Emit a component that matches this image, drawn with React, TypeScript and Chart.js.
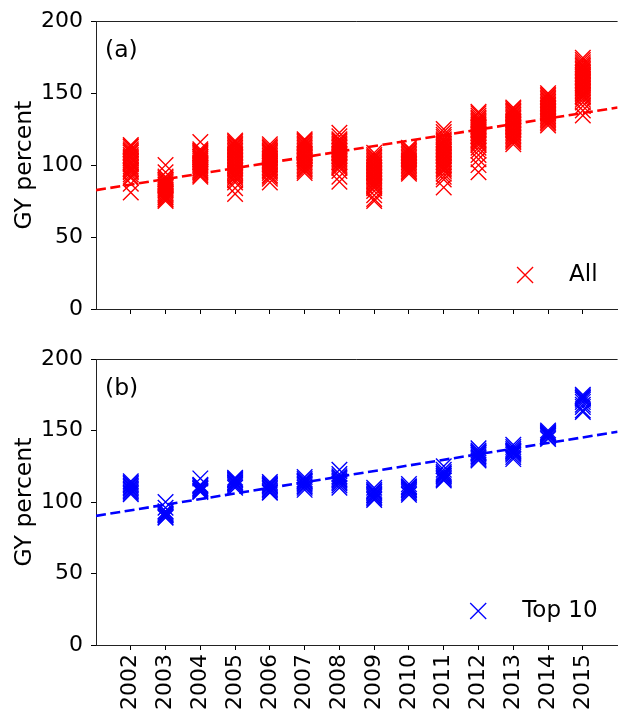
import React, { useEffect, useRef } from 'react';
import { Chart, registerables } from 'chart.js';

Chart.register(...registerables);

const FONT = 'DejaVu Sans';
const TICK_SIZE = 22;
const TEXT_SIZE = 23.5;
const LEGEND_SIZE = 23;

const years = [2002, 2003, 2004, 2005, 2006, 2007, 2008, 2009, 2010, 2011, 2012, 2013, 2014, 2015];
const xMin = 2001;
const xMax = 2016;
const yTickValues = [0, 50, 100, 150, 200];

// GY percent, all funds, per year (index follows `years`)
const allValues: number[][] = [
  [114, 113, 112.5, 111, 110, 109, 108.5, 107, 106, 105, 104.5, 103, 102, 101, 100.5, 99, 98, 97, 96, 95, 93.5, 92, 91, 87, 81],
  [100, 95, 92, 91, 90, 89, 88.5, 87.5, 86.5, 86, 85, 84, 83, 82.5, 81.5, 80.5, 80, 79, 78, 77.5, 76.5, 76, 75],
  [116, 111, 110, 109.5, 108.5, 108, 107, 106, 105.5, 104.5, 104, 103, 102, 101.5, 100.5, 100, 99, 98, 97.5, 96.5, 95.5, 95, 94, 93, 92],
  [117, 116, 115, 114, 113, 112, 111, 110, 109, 108, 107, 106, 105, 104, 103, 102, 101, 100, 99, 98, 97, 96, 95, 94, 93, 92, 91, 89.5, 88, 84, 80],
  [114.5, 113, 112, 111, 110, 109.5, 108.5, 107.5, 106.5, 105.5, 104.5, 103.5, 102.5, 101.5, 100.5, 99.5, 98.5, 97.5, 96.5, 95.5, 94.5, 93, 92, 90.5, 88],
  [118, 117, 116, 115, 114, 113, 112, 111, 110, 109, 108, 107, 106, 105, 104, 103, 102, 101, 100, 99, 98, 97, 96, 94.5],
  [122.5, 120, 118, 117, 116, 115, 114, 113, 112, 111, 110, 109, 108, 107, 106, 105, 104, 103, 102, 101, 100, 99, 98, 96, 92, 88.5],
  [108.5, 107, 106, 105, 104, 103, 102, 101, 100, 99, 98, 97, 96, 95, 94, 93, 92, 91, 90, 89, 88, 87, 86, 85, 84, 82, 79, 76.5, 75],
  [112, 111, 110, 109, 108, 107, 106, 105, 104, 103, 102, 101, 100, 99, 98, 97, 96, 95, 94],
  [125, 123, 121, 119.5, 118, 117, 116, 115, 114, 113, 112, 111, 110, 109, 108, 107, 106, 105, 104, 103, 102, 101, 100, 99, 98, 97, 96, 94, 92, 90, 84.5],
  [137, 136, 134.5, 133, 132, 131, 130, 129, 128, 127, 126, 125, 124, 123, 122, 121, 120, 119, 118, 117, 116, 115, 114, 112, 110, 107, 104, 100, 95],
  [140, 139, 138, 137, 136, 135, 134, 133, 132, 131, 130, 129, 128, 127, 126, 125, 124, 123, 122, 121, 120, 119, 118, 117, 116, 114.5],
  [150, 149, 148, 147, 146, 145, 144, 143, 142, 141, 140, 139, 138, 137, 136, 135, 134, 133, 132, 131, 130, 129, 127.5],
  [174.5, 173, 171.5, 170, 169, 168, 167, 166, 165, 164, 163, 162, 161, 160, 159, 158, 157, 156, 155, 154, 153, 152, 151, 150, 149, 148, 147, 145.5, 143.5, 141, 138, 134.5],
];

// GY percent, top 10 funds, per year
const top10Values: number[][] = [
  [114.5, 113.5, 112.5, 111.5, 110.5, 109.5, 108.5, 107.5, 106.5, 105.5],
  [100, 96, 93.5, 93, 92, 91.5, 91, 90.5, 89.5, 89],
  [116.5, 112, 111.5, 111, 110, 109.5, 109, 108, 107.5, 107],
  [117, 116, 115.5, 115, 114, 113.5, 113, 112, 111, 110],
  [114, 113, 112, 111.5, 111, 110, 109, 108, 107, 106.5],
  [117.5, 116, 115, 114.5, 114, 113, 112, 111, 110, 108.5],
  [122.5, 119.5, 118, 117, 116, 115, 114, 113, 111.5, 110],
  [110, 108.5, 107.5, 107, 106, 105, 104.5, 103.5, 102.5, 101.5],
  [112.5, 111, 110.5, 110, 109, 108.5, 108, 107, 106, 105],
  [125, 122.5, 121, 120, 119.5, 118.5, 118, 117, 116, 115],
  [137.5, 136, 135, 134.5, 134, 133, 132, 131, 130, 129],
  [140, 138.5, 137, 136, 135.5, 135, 134, 133, 131.5, 130],
  [150, 149, 148.5, 148, 147.5, 147, 146.5, 146, 145, 144],
  [175, 174, 173, 172.5, 171.5, 170, 168, 166.5, 164, 163],
];

// Linear trend lines (values at the ends of the x range)
const trendYears = [2001, 2016];
const trendAll = [82.6, 140.0];
const trendTop10 = [90.3, 149.1];

const seriesLabels = ['All', 'Top 10'];
const panelLabels = ['(a)', '(b)'];
const yTitle = 'GY percent';

const decorPlugin = {
  id: 'panelDecor',
  afterDraw(chart: any, _args: any, opts: any) {
    const { ctx, chartArea } = chart;
    const { left, right, top, bottom } = chartArea;
    ctx.save();
    // top spine
    ctx.strokeStyle = '#222';
    ctx.lineWidth = 1;
    const ty = Math.floor(top) + 0.5;
    ctx.beginPath();
    ctx.moveTo(left, ty);
    ctx.lineTo(right, ty);
    ctx.stroke();
    // panel label
    ctx.fillStyle = '#000';
    ctx.font = `${TEXT_SIZE}px "${FONT}"`;
    ctx.textBaseline = 'middle';
    ctx.textAlign = 'left';
    ctx.fillText(opts.panelLabel, left + 9, top + 30);
    // legend (lower right, no frame)
    ctx.font = `${LEGEND_SIZE}px "${FONT}"`;
    const label = chart.data.datasets[0].label as string;
    const w = ctx.measureText(label).width;
    const textRight = right - 20;
    const textStart = textRight - w;
    const cy = bottom - 34;
    ctx.fillText(label, textStart, cy);
    const cx = textStart - 44;
    const h = 8;
    ctx.strokeStyle = opts.color;
    ctx.lineWidth = 1.3;
    ctx.beginPath();
    ctx.moveTo(cx - h, cy - h);
    ctx.lineTo(cx + h, cy + h);
    ctx.moveTo(cx + h, cy - h);
    ctx.lineTo(cx - h, cy + h);
    ctx.stroke();
    ctx.restore();
  },
};

type Panel = {
  values: number[][];
  trend: number[];
  color: string;
  label: string;
  panelLabel: string;
  showXLabels: boolean;
  padTop: number;
  xAxisHeight: number;
};

function buildChart(canvas: HTMLCanvasElement, p: Panel) {
  const points = years.flatMap((yr, i) => p.values[i].map((v) => ({ x: yr, y: v })));
  const trend = trendYears.map((yr, i) => ({ x: yr, y: p.trend[i] }));
  return new Chart(canvas, {
    type: 'scatter',
    data: {
      datasets: [
        {
          type: 'scatter',
          label: p.label,
          data: points,
          pointStyle: 'crossRot',
          pointRadius: 11,
          pointHoverRadius: 11,
          borderColor: p.color,
          backgroundColor: p.color,
          borderWidth: 1.4,
        } as any,
        {
          type: 'line',
          label: 'trend',
          data: trend,
          borderColor: p.color,
          borderWidth: 2.6,
          borderDash: [10, 4.5],
          pointRadius: 0,
          fill: false,
        } as any,
      ],
    },
    options: {
      responsive: false,
      animation: false,
      devicePixelRatio: 1,
      events: [],
      layout: { padding: { top: p.padTop, right: 8, left: 0, bottom: 0 } },
      plugins: {
        legend: { display: false },
        tooltip: { enabled: false },
        panelDecor: { panelLabel: p.panelLabel, color: p.color },
      } as any,
      scales: {
        x: {
          type: 'linear',
          min: xMin,
          max: xMax,
          afterBuildTicks: (s: any) => {
            s.ticks = years.map((v) => ({ value: v }));
          },
          afterFit: (s: any) => {
            s.height = p.xAxisHeight;
          },
          grid: { display: true, drawOnChartArea: false, drawTicks: true, tickLength: 5, color: '#000', lineWidth: 1 },
          border: { display: true, color: '#222', width: 1 },
          ticks: {
            display: p.showXLabels,
            autoSkip: false,
            minRotation: 90,
            maxRotation: 90,
            padding: 4,
            color: '#000',
            font: { family: FONT, size: TICK_SIZE },
            callback: (v: any) => String(v),
          },
        },
        y: {
          type: 'linear',
          min: 0,
          max: 200,
          afterBuildTicks: (s: any) => {
            s.ticks = yTickValues.map((v) => ({ value: v }));
          },
          afterFit: (s: any) => {
            s.width = 96;
          },
          grid: { display: true, drawOnChartArea: false, drawTicks: true, tickLength: 5, color: '#000', lineWidth: 1 },
          border: { display: true, color: '#222', width: 1 },
          ticks: {
            padding: 8,
            color: '#000',
            font: { family: FONT, size: TICK_SIZE },
            callback: (v: any) => String(v),
          },
          title: {
            display: true,
            text: yTitle,
            color: '#000',
            font: { family: FONT, size: TEXT_SIZE },
            padding: { top: 11, bottom: 0 },
          },
        },
      },
    } as any,
    plugins: [decorPlugin],
  });
}

export default function App() {
  const topRef = useRef<HTMLCanvasElement>(null);
  const botRef = useRef<HTMLCanvasElement>(null);

  useEffect(() => {
    const c1 = buildChart(topRef.current!, {
      values: allValues,
      trend: trendAll,
      color: '#ff0000',
      label: seriesLabels[0],
      panelLabel: panelLabels[0],
      showXLabels: false,
      padTop: 21,
      xAxisHeight: 26,
    });
    const c2 = buildChart(botRef.current!, {
      values: top10Values,
      trend: trendTop10,
      color: '#0000ff',
      label: seriesLabels[1],
      panelLabel: panelLabels[1],
      showXLabels: true,
      padTop: 24,
      xAxisHeight: 90,
    });
    return () => {
      c1.destroy();
      c2.destroy();
    };
  }, []);

  return (
    <div style={{ position: 'absolute', left: 0, top: 0, width: 620, height: 714, overflow: 'hidden', background: '#fff' }}>
      <canvas ref={topRef} width={630} height={335} style={{ position: 'absolute', left: 0, top: 0, display: 'block' }} />
      <canvas ref={botRef} width={630} height={400} style={{ position: 'absolute', left: 0, top: 335, display: 'block' }} />
    </div>
  );
}
